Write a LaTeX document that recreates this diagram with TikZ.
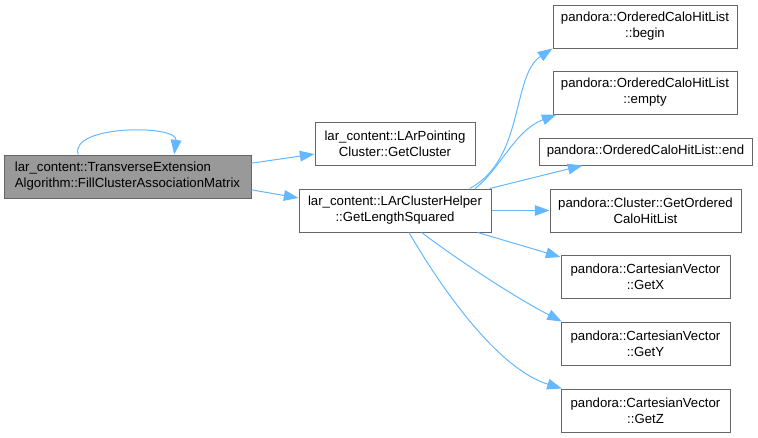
\documentclass[tikz,border=0pt]{standalone}
\usepackage{fontspec}
\setmainfont{Liberation Sans}
\usetikzlibrary{arrows.meta}
\definecolor{edgeblue}{HTML}{63B8FF}
\definecolor{boxborder}{HTML}{666666}
\definecolor{rootfill}{HTML}{999999}
\tikzset{
  fn/.style={draw=boxborder, line width=0.75pt, fill=white, rectangle, inner sep=0pt,
    align=center, font=\fontsize{9.9}{12}\selectfont, text=black,
    minimum height=32.25pt},
  rootfn/.style={fn, fill=rootfill},
  call/.style={draw=edgeblue, line width=0.75pt, -{Triangle[length=11pt,width=8pt]}}
}
\begin{document}
\begin{tikzpicture}[x=0.75pt,y=-0.75pt]
\useasboundingbox (0,0) rectangle (758,437);
\node[rootfn, minimum width=185.25pt, align=left] (main) at (127.5,176.5)
  {lar\_content::TransverseExtension\\Algorithm::FillClusterAssociationMatrix};
\node[fn, minimum width=120pt] (point) at (395,143.5)
  {lar\_content::LArPointing\\Cluster::GetCluster};
\node[fn, minimum width=144pt] (gls) at (395,210.5)
  {lar\_content::LArClusterHelper\\::GetLengthSquared};
\node[fn, minimum width=138pt] (begin) at (645,26.5)
  {pandora::OrderedCaloHitList\\::begin};
\node[fn, minimum width=138pt] (empty) at (645,92.5)
  {pandora::OrderedCaloHitList\\::empty};
\node[fn, minimum width=159.75pt, minimum height=20.25pt] (end) at (645.5,151.5)
  {pandora::OrderedCaloHitList::end};
\node[fn, minimum width=143.25pt] (ordered) at (645.5,210.5)
  {pandora::Cluster::GetOrdered\\CaloHitList};
\node[fn, minimum width=126.75pt] (getx) at (645.5,277)
  {pandora::CartesianVector\\::GetX};
\node[fn, minimum width=126.75pt] (gety) at (645.5,343.5)
  {pandora::CartesianVector\\::GetY};
\node[fn, minimum width=126.75pt] (getz) at (645.5,410.5)
  {pandora::CartesianVector\\::GetZ};

% self loop
\draw[call] ([xshift=-37pt]main.north) .. controls +(-9,-30) and +(4,-30) .. ([xshift=35pt]main.north);
% main calls
\draw[call] ([yshift=10pt]main.east) -- ([yshift=-7.9pt]point.west);
\draw[call] ([yshift=-10pt]main.east) -- ([yshift=9.4pt]gls.west);
% gls calls
\draw[call] ([xshift=56pt]gls.north) .. controls +(55,-29) and +(-41,27) .. (begin.south west);
\draw[call] ([xshift=60pt]gls.north) .. controls +(25,-19) and +(-42,16) .. ([xshift=3pt]empty.south west);
\draw[call] ([xshift=71pt]gls.north) -- ([xshift=33pt]end.south west);
\draw[call] (gls.east) -- (ordered.west);
\draw[call] ([xshift=62pt]gls.south) -- ([yshift=-1.5pt]getx.north west);
\draw[call] ([xshift=20pt]gls.south) .. controls +(38,29) and +(-43,-22) .. ([xshift=1pt]gety.north west);
\draw[call] ([xshift=10.5pt]gls.south) .. controls +(36,62) and +(-62,-19) .. ([xshift=1pt]getz.north west);
\end{tikzpicture}
\end{document}
